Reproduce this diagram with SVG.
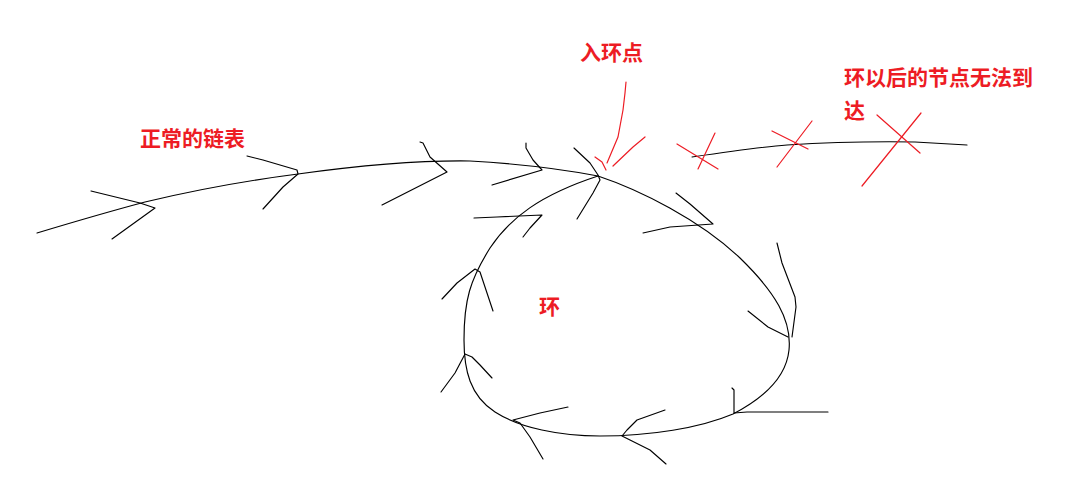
<svg xmlns="http://www.w3.org/2000/svg" width="1069" height="482" viewBox="0 0 1069 482">
<style>
.k{fill:none;stroke:#000;stroke-width:1.15;stroke-linejoin:round;stroke-linecap:round}
.r{fill:none;stroke:#ED1C24;stroke-width:1.2;stroke-linejoin:round;stroke-linecap:round}
.t{fill:#ED1C24;font-family:"Microsoft YaHei","Noto Sans CJK SC",sans-serif;font-weight:bold;font-size:21px}
</style>
<rect width="1069" height="482" fill="#fff"/>
<g id="connectors">
<path class="k" d="M37,233 Q100,214 145,202 Q220,184 298,174 Q400,160 470,161 Q540,165 598,176"/>
<path class="k" d="M598,176 C640,190 700,220 740,258 C775,292 792,320 789,350 C786,380 760,400 733,414 C700,428 650,436 600,436 C560,436 520,428 495,412 C470,396 464,370 464,340 C464,300 470,280 490,248 C510,218 540,195 598,176"/>
<path class="k" d="M692,157 Q760,147 787,145 Q850,141 915,142 L967,145"/>
<polyline class="k" points="91,191 140,203 155,208 112,239"/>
<polyline class="k" points="247,156 263,160 297,170 298,174 283,187 263,209"/>
<polyline class="k" points="420,142 423,143 430,157 447,172 382,205"/>
<polyline class="k" points="526,143 526,148 533,160 542,170 492,185"/>
<polyline class="k" points="574,148 590,163 598,175 600,180 593,193 577,219"/>
<polyline class="k" points="676,193 690,204 713,224 670,227 643,233"/>
<polyline class="k" points="777,243 782,263 795,297 796,307 792,337"/>
<polyline class="k" points="748,311 768,327 788,337"/>
<polyline class="k" points="732,388 734,390 734,413 747,412 828,412"/>
<polyline class="k" points="665,410 637,420 627,430 622,436 630,440 650,450 666,464"/>
<polyline class="k" points="568,407 540,413 513,420 520,423 530,437 543,459"/>
<polyline class="k" points="441,392 455,373 465,354 472,357 480,365 492,378"/>
<polyline class="k" points="442,299 457,283 475,269 480,272 485,287 493,311"/>
<polyline class="k" points="474,218 497,217 542,215 530,228 523,237"/>
<polyline class="r" points="626,82 625,93 623,110 618,137 607,163"/>
<polyline class="r" points="645,137 633,147 613,166"/>
<polyline class="r" points="595,157 602,162 606,170"/>
<polyline class="r" points="677,144 718,169"/>
<polyline class="r" points="715,133 698,169"/>
<polyline class="r" points="772,131 808,149"/>
<polyline class="r" points="812,121 777,167"/>
<polyline class="r" points="877,115 920,153"/>
<polyline class="r" points="921,113 862,186"/>
</g>
<g id="label-normal"><text class="t" x="140" y="146">正常的链表</text></g>
<g id="label-entry"><text class="t" x="580" y="60">入环点</text></g>
<g id="label-unreachable"><text class="t" x="844" y="85">环以后的节点无法到</text><text class="t" x="844" y="118">达</text></g>
<g id="label-loop"><text class="t" x="539" y="314">环</text></g>
</svg>
